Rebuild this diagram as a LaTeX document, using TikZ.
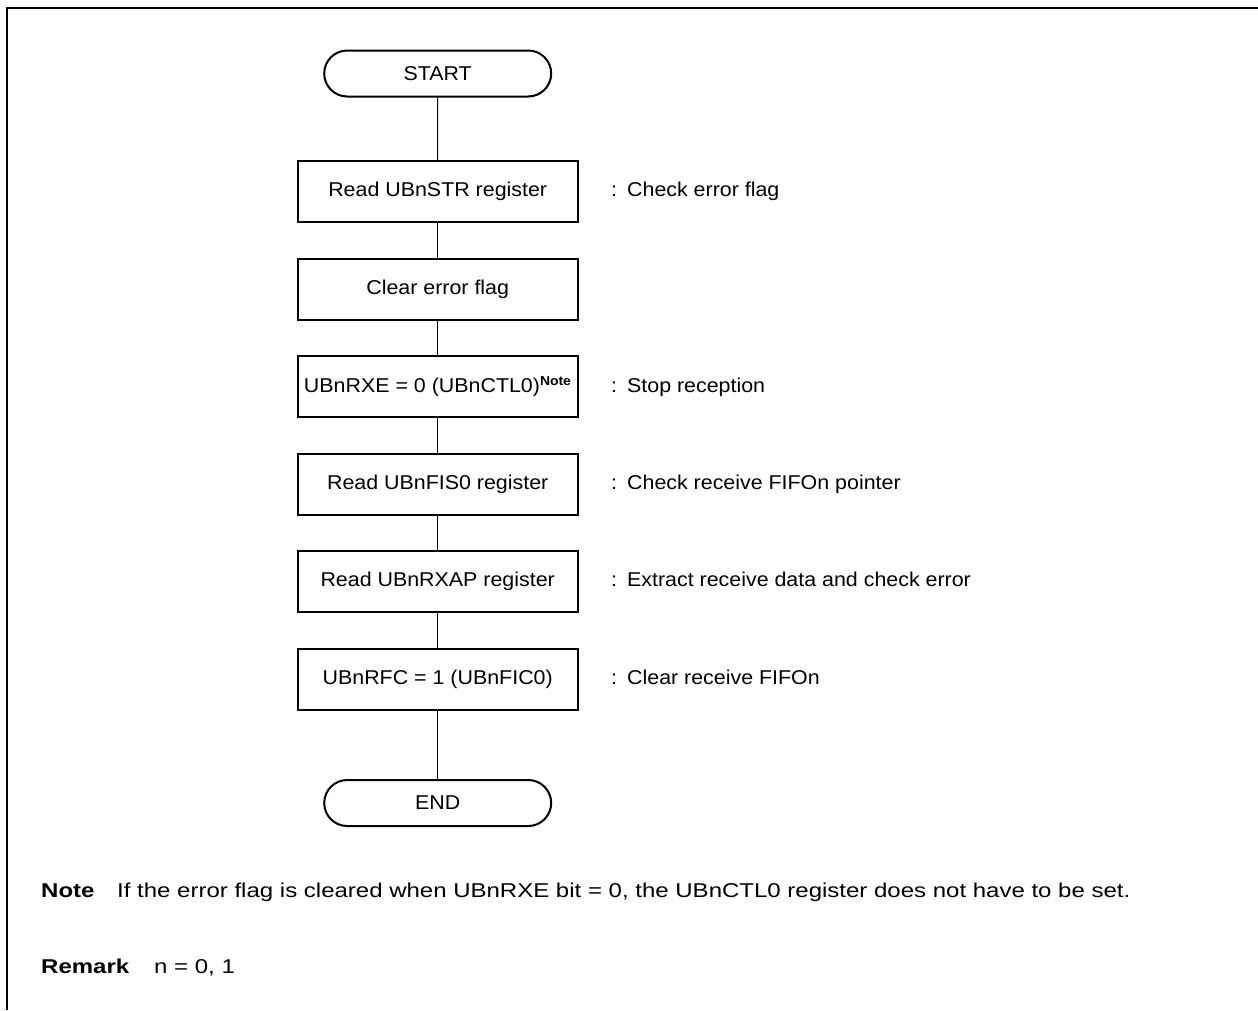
\documentclass[tikz,border=0pt]{standalone}
\usepackage{fontspec}
\setmainfont{Liberation Sans}
\newfontfamily\boxfont[FakeStretch=1.07]{Liberation Sans}
\newfontfamily\notefont[FakeStretch=1.2]{Liberation Sans}
\usetikzlibrary{shapes.misc}
\begin{document}
\begin{tikzpicture}[x=1pt,y=-1pt,
  every node/.style={font=\boxfont\fontsize{20}{24}\selectfont},
  proc/.style={draw, line width=2pt, minimum width=280pt, minimum height=61pt, inner sep=0pt},
  term/.style={draw, rounded rectangle, line width=2pt, minimum width=227pt, minimum height=46pt, inner sep=0pt},
  ann/.style={anchor=base west, inner sep=0pt},
  txt/.style={anchor=base west, inner sep=0pt, font=\notefont\fontsize{20}{24}\selectfont},
  link/.style={line width=1pt}]
\useasboundingbox (0,0) rectangle (1258,1010);
\draw[line width=2pt] (7,1010) -- (7,8) -- (1259,8);

\node[term] (start) at (437.7,73.5) {START};
\node[proc] (s1) at (437.7,191.5) {Read UBnSTR register};
\node[proc] (s2) at (437.7,289) {Clear error flag};
\node[proc] (s3) at (437.7,386.5) {UBnRXE = 0 (UBnCTL0)\textsuperscript{\bfseries\fontsize{13}{13}\selectfont Note}};
\node[proc] (s4) at (437.7,484) {Read UBnFIS0 register};
\node[proc] (s5) at (437.7,581.5) {Read UBnRXAP register};
\node[proc] (s6) at (437.7,679) {UBnRFC = 1 (UBnFIC0)};
\node[term] (end) at (437.7,803) {END};

\draw[link] (start) -- (s1);
\draw[link] (s1) -- (s2);
\draw[link] (s2) -- (s3);
\draw[link] (s3) -- (s4);
\draw[link] (s4) -- (s5);
\draw[link] (s5) -- (s6);
\draw[link] (s6) -- (end);

\coordinate (ax) at (611,0);
\node[ann] (a1) at (s1.base -| ax) {:\hspace{10pt}Check error flag};
\node[ann] (a3) at (s3.base -| ax) {:\hspace{10pt}Stop reception};
\node[ann] (a4) at (s4.base -| ax) {:\hspace{10pt}Check receive FIFOn pointer};
\node[ann] (a5) at (s5.base -| ax) {:\hspace{10pt}Extract receive data and check error};
\node[ann] (a6) at (s6.base -| ax) {:\hspace{10pt}Clear receive FIFOn};

\node[txt] (nl) at (41,897) {\bfseries Note};
\node[txt] (nt) at (117,897) {If the error flag is cleared when UBnRXE bit = 0, the UBnCTL0 register does not have to be set.};
\node[txt] (rl) at (41,973) {\bfseries Remark};
\node[txt] (rt) at (154,973) {n = 0, 1};
\end{tikzpicture}
\end{document}
